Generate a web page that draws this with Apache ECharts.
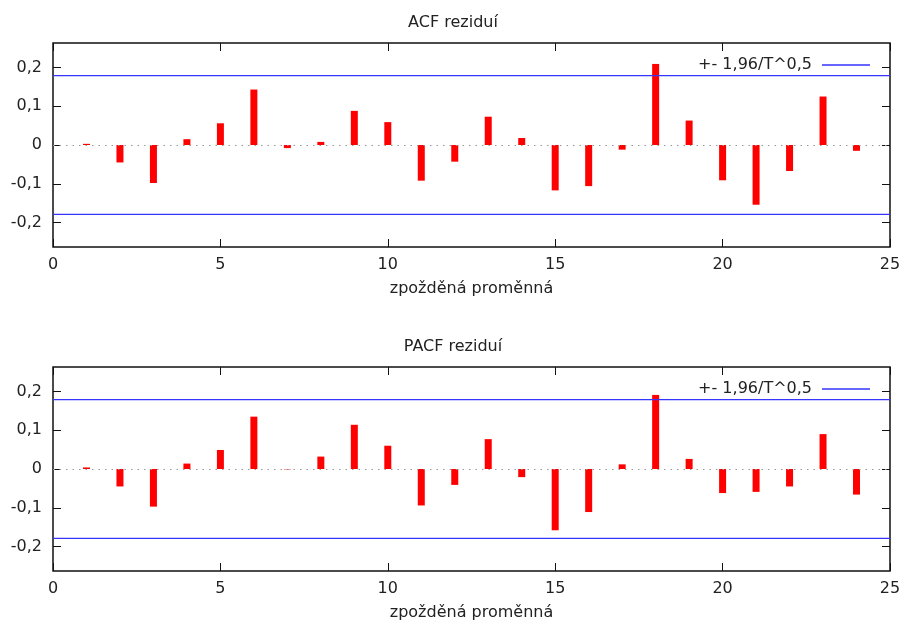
<!DOCTYPE html>
<html>
<head>
<meta charset="utf-8">
<title>ACF / PACF reziduí</title>
<script src="https://cdn.jsdelivr.net/npm/echarts@6/dist/echarts.min.js"></script>
<style>
	html, body { margin:0; padding:0; background:#fff; }
	#graf { width:906px; height:623px; }
</style>
</head>
<body>
<div id="graf"></div>
<script>
// zpoždění 1..24
var lags = [1,2,3,4,5,6,7,8,9,10,11,12,13,14,15,16,17,18,19,20,21,22,23,24];
var acf = [0.003,-0.045,-0.098,0.015,0.056,0.143,-0.008,0.008,0.088,0.059,-0.092,-0.043,
	0.073,0.018,-0.117,-0.106,-0.012,0.209,0.063,-0.091,-0.154,-0.067,0.125,-0.015];
var pacf = [0.004,-0.045,-0.097,0.014,0.049,0.135,-0.001,0.032,0.114,0.060,-0.094,-0.041,
	0.077,-0.021,-0.158,-0.111,0.012,0.191,0.026,-0.062,-0.059,-0.045,0.090,-0.066];
var conf = 0.179;   // 1,96/T^0,5
var xTicks = [0,5,10,15,20,25];
var yTicks = [-0.2,-0.1,0,0.1,0.2];
var titles = ['ACF reziduí','PACF reziduí'];
var xName = 'zpožděná proměnná';
var confName = '+- 1,96/T^0,5';

var font = '"DejaVu Sans", Verdana, sans-serif';
var txt = '#222';
var fs = 16;

function fmt(v){
	if(Math.abs(v) < 1e-9) return '0';
	return String(Math.round(v*10)/10).replace('.', ',');
}

function pairs(vals){
	var out = [];
	for(var i=0;i<lags.length;i++){ out.push([lags[i], vals[i]]); }
	return out;
}

var grids = [], xAxes = [], yAxes = [], series = [], legends = [], tits = [];
var tops = [43, 367];
var data = [acf, pacf];
var tick = {inside:true, length:8, lineStyle:{color:'#111', width:1}};

for(var g=0; g<2; g++){
	grids.push({left:53, top:tops[g], width:837, height:204, show:true, borderColor:'#111', borderWidth:1.5, backgroundColor:'#fff'});
	tits.push({text:titles[g], left:'center', top:tops[g]-33, textStyle:{fontFamily:font, fontSize:fs, fontWeight:'normal', color:txt}});
	legends.push({data:[{name:confName, icon:'rect'}], right:31, top:tops[g]+9, align:'right', itemWidth:48, itemHeight:1.5,
		textStyle:{fontFamily:font, fontSize:fs, color:txt, padding:[0,5,0,0]}, selectedMode:false});
	// dolní a horní osa x
	xAxes.push({gridIndex:g, type:'value', min:0, max:25, position:'bottom',
		name:xName, nameLocation:'middle', nameGap:34, nameTextStyle:{fontFamily:font, fontSize:fs, color:txt},
		axisLine:{show:false, onZero:false}, splitLine:{show:false},
		axisTick:Object.assign({customValues:xTicks}, tick),
		axisLabel:{margin:10, fontFamily:font, fontSize:fs, color:txt, customValues:xTicks}});
	xAxes.push({gridIndex:g, type:'value', min:0, max:25, position:'top',
		axisLine:{show:false, onZero:false}, splitLine:{show:false}, axisLabel:{show:false},
		axisTick:Object.assign({customValues:xTicks}, tick)});
	// levá a pravá osa y
	yAxes.push({gridIndex:g, type:'value', min:-0.263, max:0.263, position:'left',
		axisLine:{show:false, onZero:false}, splitLine:{show:false},
		axisTick:Object.assign({customValues:yTicks}, tick),
		axisLabel:{margin:11, fontFamily:font, fontSize:fs, color:txt, customValues:yTicks, formatter:fmt}});
	yAxes.push({gridIndex:g, type:'value', min:-0.263, max:0.263, position:'right',
		axisLine:{show:false, onZero:false}, splitLine:{show:false}, axisLabel:{show:false},
		axisTick:Object.assign({customValues:yTicks}, tick)});

	series.push({type:'bar', name:titles[g], xAxisIndex:g*2, yAxisIndex:g*2, barWidth:7,
		itemStyle:{color:'#ff0000'}, data:pairs(data[g]),
		markLine:{silent:true, symbol:'none', label:{show:false},
			lineStyle:{color:'#999', type:[1.5,5], width:1}, data:[{yAxis:0}]}});
	series.push({type:'line', name:confName, xAxisIndex:g*2, yAxisIndex:g*2, symbol:'none',
		lineStyle:{color:'#3535ff', width:1.4}, itemStyle:{color:'#3535ff'}, data:[[0,conf],[25,conf]]});
	series.push({type:'line', name:confName, xAxisIndex:g*2, yAxisIndex:g*2, symbol:'none',
		lineStyle:{color:'#3535ff', width:1.4}, itemStyle:{color:'#3535ff'}, data:[[0,-conf],[25,-conf]]});
}

var graf = echarts.init(document.getElementById('graf'));
graf.setOption({
	animation:false,
	title:tits,
	legend:legends,
	grid:grids,
	xAxis:xAxes,
	yAxis:yAxes,
	series:series
});
</script>
</body>
</html>
